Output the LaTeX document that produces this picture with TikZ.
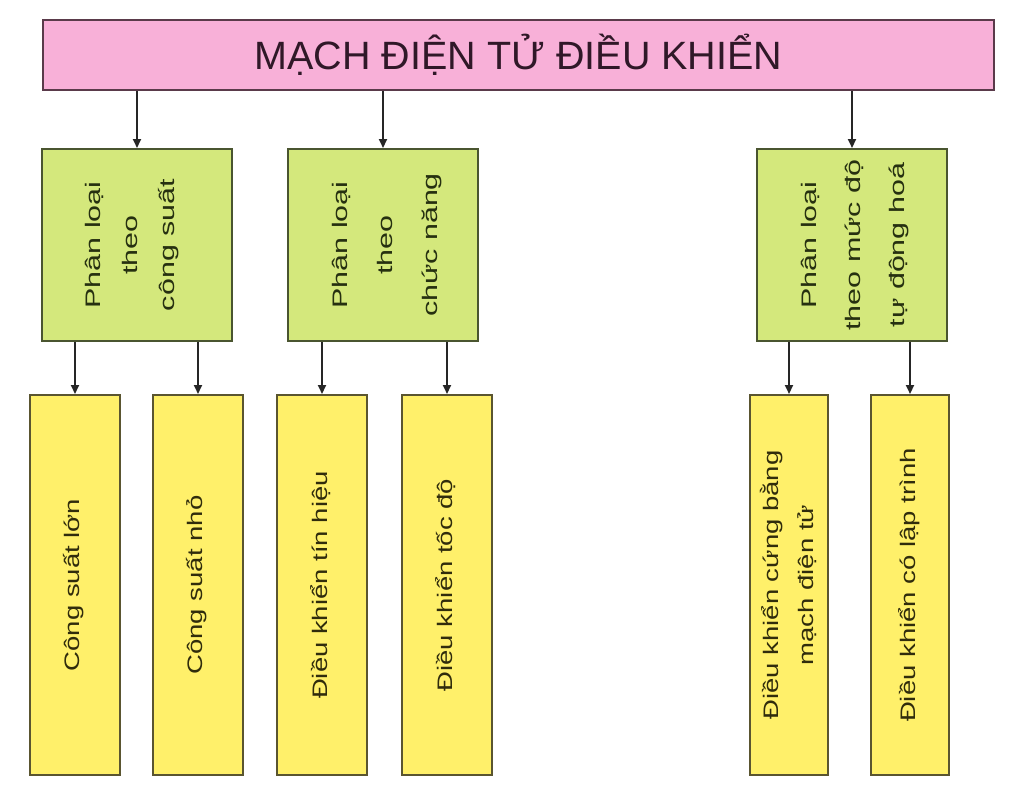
\documentclass[tikz,border=0pt]{standalone}
\usepackage{fontspec}
\setmainfont{Liberation Sans}
\usetikzlibrary{arrows.meta}
\definecolor{pinkfill}{HTML}{F8B0D8}
\definecolor{pinkline}{HTML}{5A3A4A}
\definecolor{greenfill}{HTML}{D4E87C}
\definecolor{greenline}{HTML}{4A5530}
\definecolor{yellowfill}{HTML}{FFF06A}
\definecolor{yellowline}{HTML}{5A5530}
\definecolor{titletxt}{HTML}{301828}
\definecolor{greentxt}{HTML}{263010}
\definecolor{yellowtxt}{HTML}{302C0C}
\newcommand{\vlines}[3]{\rotatebox{90}{\scalebox{#1}[1]{\fontsize{21}{#2}\selectfont\begin{tabular}{@{}c@{}}#3\end{tabular}}}}
\begin{document}
\begin{tikzpicture}[x=1pt,y=-1pt,
  box/.style={draw, rectangle, inner sep=0pt, line width=2pt},
  topbox/.style={box, fill=pinkfill, draw=pinkline, text=titletxt, font=\fontsize{39.5}{41}\selectfont},
  gbox/.style={box, fill=greenfill, draw=greenline, text=greentxt, minimum width=190pt, minimum height=192pt},
  ybox/.style={box, fill=yellowfill, draw=yellowline, text=yellowtxt, minimum height=380pt},
  arr/.style={draw=black!85, line width=2pt, -{Triangle[length=9pt,width=8pt]}}]
\fill[white] (0,0) rectangle (1024,792);
\useasboundingbox (0,0) rectangle (1024,792);

\node[topbox, minimum width=951pt, minimum height=70pt] (top) at (518.5,55) {MẠCH ĐIỆN TỬ ĐIỀU KHIỂN};

\node[gbox] (g1) at (137,245) {\hbox{\vlines{1.45}{37}{Phân loại\\theo\\công suất}\kern14pt}};
\node[gbox] (g2) at (383,245) {\vlines{1.45}{45}{Phân loại\\theo\\chức năng}};
\node[gbox] (g3) at (852,245) {\vlines{1.45}{44}{Phân loại\\theo mức độ\\tự động hoá}};

\node[ybox, minimum width=90pt] (y1) at (75,585) {\vlines{1.31}{22}{Công suất lớn}};
\node[ybox, minimum width=90pt] (y2) at (198,585) {\vlines{1.31}{22}{Công suất nhỏ}};
\node[ybox, minimum width=90pt] (y3) at (322,585) {\vlines{1.31}{22}{Điều khiển tín hiệu}};
\node[ybox, minimum width=90pt] (y4) at (447,585) {\vlines{1.31}{22}{Điều khiển tốc độ}};
\node[ybox, minimum width=78pt] (y5) at (789,585) {\vlines{1.31}{35}{Điều khiển cứng bằng\\mạch điện tử}};
\node[ybox, minimum width=78pt] (y6) at (910,585) {\vlines{1.31}{22}{Điều khiển có lập trình}};

\draw[arr] (top.south -| g1.north) -- (g1.north);
\draw[arr] (top.south -| g2.north) -- (g2.north);
\draw[arr] (top.south -| g3.north) -- (g3.north);
\draw[arr] (g1.south -| y1.north) -- (y1.north);
\draw[arr] (g1.south -| y2.north) -- (y2.north);
\draw[arr] (g2.south -| y3.north) -- (y3.north);
\draw[arr] (g2.south -| y4.north) -- (y4.north);
\draw[arr] (g3.south -| y5.north) -- (y5.north);
\draw[arr] (g3.south -| y6.north) -- (y6.north);
\end{tikzpicture}
\end{document}
